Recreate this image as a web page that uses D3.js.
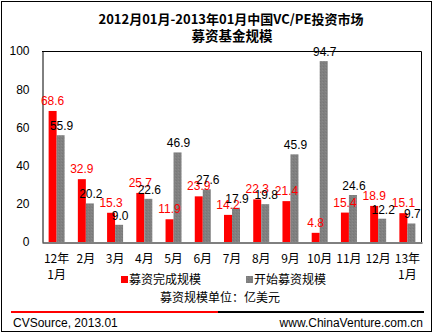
<!DOCTYPE html>
<html><head><meta charset="utf-8">
<script src="https://cdn.jsdelivr.net/npm/d3@7/dist/d3.min.js"></script>
<style>
html,body{margin:0;padding:0;background:#fff;}
svg{display:block;font-family:"Liberation Sans",Arial,"Noto Sans CJK SC",sans-serif;}
</style></head>
<body><svg id="c" width="435" height="335"></svg>
<script>
const categories = ["12年\n1月","2月","3月","4月","5月","6月","7月","8月","9月","10月","11月","12月","13年\n1月"];
const completed = [68.6,32.9,15.3,25.7,11.9,23.9,14.2,22.3,21.4,4.8,15.4,18.9,15.1];
const started = [55.9,20.2,9.0,22.6,46.9,27.6,17.9,19.8,45.9,94.7,24.6,12.2,9.7];
const yTicks = [0,20,40,60,80,100];
const seriesNames = ["募资完成规模","开始募资规模"];
const titleLines = ["2012月01月-2013年01月中国VC/PE投资市场","募资基金规模"];
const unitText = "募资规模单位：亿美元";
const footLeft = "CVSource, 2013.01";
const footRight = "www.ChinaVenture.com.cn";

const svg = d3.select("#c");
const cjk = '"Noto Sans CJK SC","Liberation Sans",Arial,sans-serif';

// pattern for grey bars
const defs = svg.append("defs");
const pat = defs.append("pattern").attr("id","speck").attr("width",3).attr("height",3).attr("patternUnits","userSpaceOnUse");
pat.append("rect").attr("width",3).attr("height",3).attr("fill","#808080");
pat.append("rect").attr("x",1).attr("y",1).attr("width",1).attr("height",1).attr("fill","#8a8a8a");
pat.append("rect").attr("x",2).attr("y",0).attr("width",1).attr("height",1).attr("fill","#777");

// outer border
svg.append("rect").attr("x",1.5).attr("y",1.5).attr("width",430).attr("height",330)
  .attr("fill","none").attr("stroke","#000").attr("stroke-width",1);

// title
svg.append("text").attr("x",231).attr("y",24).attr("text-anchor","middle")
  .style("font-family",cjk).style("font-weight","bold").style("font-size","13px").text(titleLines[0]);
svg.append("text").attr("x",232).attr("y",41).attr("text-anchor","middle")
  .style("font-family",cjk).style("font-weight","bold").style("font-size","13.5px").text(titleLines[1]);

const L=42, R=422, T=51, B=242;
const x = d3.scaleBand().domain(d3.range(categories.length)).range([L,R]);
const y = d3.scaleLinear().domain([0,100]).range([B,T]);
const bw = 8;

// frame top/right
svg.append("path").attr("d",`M${L},${T+0.5}H${R-0.5}V${B}`).attr("fill","none").attr("stroke","#000");

// y axis
const yAxis = d3.axisLeft(y).tickValues(yTicks).tickSize(0).tickPadding(13).tickFormat(d3.format("d"));
const gy = svg.append("g").attr("transform",`translate(${L+0.5},0)`).call(yAxis);
gy.select(".domain").attr("stroke","#000");
gy.selectAll("text").style("font-size","12px").style("font-family","'Liberation Sans',Arial,sans-serif").attr("fill","#000");

// x axis
const xAxis = d3.axisBottom(x).tickSize(0).tickFormat(()=>"");
const gx = svg.append("g").attr("transform",`translate(0,${B+0.5})`).call(xAxis);
gx.select(".domain").attr("stroke","#000");
gx.selectAll(".tick").each(function(d){
  const lines = categories[d].split("\n");
  const t = d3.select(this).append("text").attr("text-anchor","middle")
    .style("font-family",cjk).style("font-size","12px").attr("fill","#000");
  lines.forEach((ln,i)=>t.append("tspan").attr("x",0).attr("y",20+i*16).text(ln));
});

// bars
const cx = i => x(i)+x.bandwidth()/2;
svg.append("g").selectAll("rect").data(completed).join("rect")
  .attr("x",(d,i)=>cx(i)-bw).attr("y",d=>y(d)).attr("width",bw).attr("height",d=>B-y(d)).attr("fill","#ff0000");
svg.append("g").selectAll("rect").data(started).join("rect")
  .attr("x",(d,i)=>cx(i)).attr("y",d=>y(d)).attr("width",bw).attr("height",d=>B-y(d)).attr("fill","url(#speck)");

// labels
const lf = "'Liberation Sans',Arial,sans-serif";
svg.append("g").selectAll("text").data(completed).join("text")
  .attr("x",(d,i)=>cx(i)-bw/2).attr("y",d=>y(d)-6).attr("text-anchor","middle")
  .style("font-family",lf).style("font-size","12px").attr("fill","#ff0000").text(d=>d.toFixed(1));
svg.append("g").selectAll("text").data(started).join("text")
  .attr("x",(d,i)=>cx(i)+bw/2+1).attr("y",d=>y(d)-5).attr("text-anchor","middle")
  .style("font-family",lf).style("font-size","12px").attr("fill","#000").text(d=>d.toFixed(1));

// legend
const colors = ["#ff0000","url(#speck)"];
const legX = [121,246];
seriesNames.forEach((n,i)=>{
  svg.append("rect").attr("x",legX[i]).attr("y",276).attr("width",7).attr("height",7).attr("fill",colors[i]);
  svg.append("text").attr("x",legX[i]+8).attr("y",284).style("font-family",cjk).style("font-size","12px").text(n);
});
svg.append("text").attr("x",220).attr("y",302).attr("text-anchor","middle")
  .style("font-family",cjk).style("font-size","12px").text(unitText);

// footer line
svg.append("line").attr("x1",11).attr("x2",218).attr("y1",312).attr("y2",312).attr("stroke","#ff0000").attr("stroke-width",2);
svg.append("line").attr("x1",218).attr("x2",424).attr("y1",312).attr("y2",312).attr("stroke","#000").attr("stroke-width",2);
svg.append("text").attr("x",13).attr("y",327).style("font-family",lf).style("font-size","12px").text(footLeft);
svg.append("text").attr("x",423).attr("y",327).attr("text-anchor","end").style("font-family",lf).style("font-size","12px").text(footRight);
</script>
</body></html>
